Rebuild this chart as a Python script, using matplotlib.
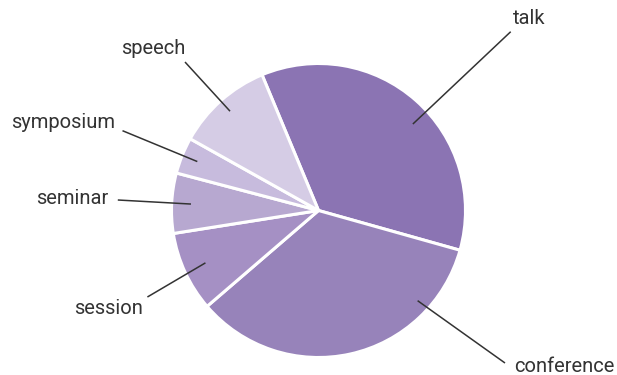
import matplotlib
matplotlib.use("Agg")
import matplotlib.pyplot as plt
import numpy as np

categories = ["talk", "conference", "session", "seminar", "symposium", "speech"]
values = [35.6, 34.3, 8.8, 6.6, 4.0, 10.6]
colors = ["#8b74b3", "#9783ba", "#a590c4", "#b7a8d0", "#c7bbdd", "#d5cce5"]

W, H = 617, 375
fig = plt.figure(figsize=(W / 100, H / 100), dpi=100)
ax = fig.add_axes([0, 0, 1, 1])

cx, cy, R = 318.5, 164.5, 147
start = 112.6
wedges, _ = ax.pie(values, colors=colors, startangle=start, counterclock=False,
                   center=(cx, cy), radius=R, frame=True,
                   wedgeprops=dict(edgecolor="white", linewidth=2.2))
ax.set_xlim(0, W)
ax.set_ylim(0, H)
ax.set_aspect("equal")
ax.axis("off")

# label layout: pointer angle (None = slice middle), pointer radius,
# elbow end of the leader line, text anchor and alignment
layout = {
    "talk":       (42.5, 128, (510.7, 343.3), (513, 356), "left"),
    "conference": (-42.3, 134, (505, 12), (514, 9), "left"),
    "session":    (None, 124.6, (147.4, 78), (143, 67), "right"),
    "seminar":    (None, 127.7, (117.8, 175), (108, 176), "right"),
    "symposium":  (None, 130.7, (122.5, 244.3), (115, 252.5), "right"),
    "speech":     (None, 133, (185, 313), (185, 326), "right"),
}

for w, name in zip(wedges, categories):
    ang, r, end, txt, ha = layout[name]
    if ang is None:
        ang = (w.theta1 + w.theta2) / 2
    a = np.deg2rad(ang)
    p = (cx + r * np.cos(a), cy + r * np.sin(a))
    ax.plot([p[0], end[0]], [p[1], end[1]], color="#333333", lw=1.1,
            solid_capstyle="butt")
    ax.text(txt[0], txt[1], name, ha=ha, va="center", fontsize=14.5,
            family=["Roboto", "DejaVu Sans"], color="#333333")

fig.savefig("out.png", dpi=100)
